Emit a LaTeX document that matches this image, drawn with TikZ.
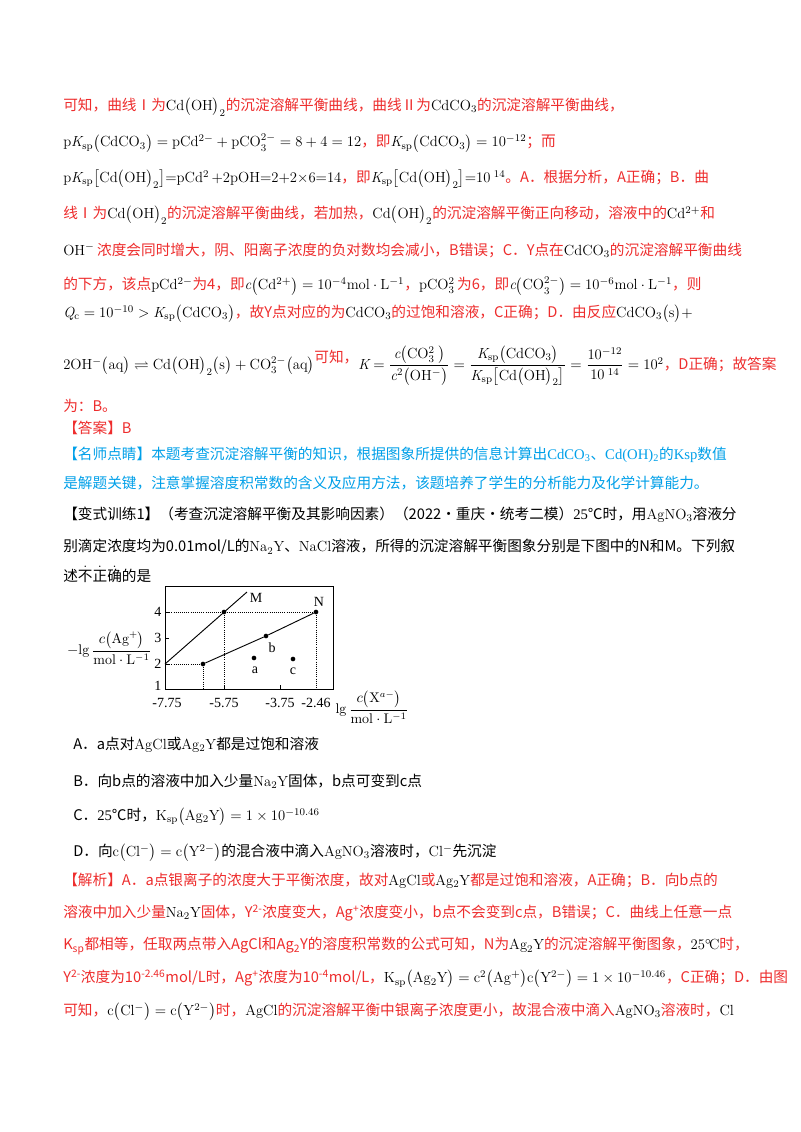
\documentclass[tikz,border=0pt]{standalone}
\usepackage{fontspec}
\usepackage{amsmath,amssymb}
\newfontfamily\cjk{Noto Sans CJK SC}
\newfontfamily\tms{Liberation Serif}
\definecolor{rd}{RGB}{238,45,45}
\definecolor{cy}{RGB}{0,160,233}
\newcommand\m[1]{{\color{black}$\mathrm{#1}$}}
\newcommand\emd[1]{\leavevmode\rlap{\raisebox{0.95em}{\makebox[1em]{\normalfont .}}}#1}
\tikzset{ln/.style={anchor=west,inner sep=0pt,font=\cjk\fontsize{11}{14}\selectfont,text=rd},
 lb/.style={ln,text=black},
 lc/.style={ln,text=cy},
 dt/.style={densely dotted,line width=0.6pt},
 pt/.style={circle,fill=black,inner sep=0pt,minimum size=3.5pt},
 tk/.style={font=\tms\fontsize{10.5}{12}\selectfont,inner sep=1pt}}
\begin{document}
\begin{tikzpicture}[x=0.75pt,y=-0.75pt]
\useasboundingbox[fill=white] (0,0) rectangle (800,1132);
\node[ln] (l1) at (63,107) {可知，曲线Ⅰ为\m{Cd\bigl(OH\bigr)_2}的沉淀溶解平衡曲线，曲线Ⅱ为\m{CdCO_3}的沉淀溶解平衡曲线，};
\node[ln] (l2) at (63,143) {\m{p\mathit{K}_{sp}\bigl(CdCO_3\bigr)=pCd^{2-}+pCO_3^{2-}=8+4=12}，即\m{\mathit{K}_{sp}\bigl(CdCO_3\bigr)=10^{-12}}；而};
\node[ln] (l3) at (63,179) {\m{p\mathit{K}_{sp}\bigl[Cd\bigl(OH\bigr)_2\bigr]{=}pCd^{2}\,{+}2pOH{=}2{+}2{\times}6{=}14}，即\m{\mathit{K}_{sp}\bigl[Cd\bigl(OH\bigr)_2\bigr]{=}10^{\ 14}}。A．根据分析，A正确；B．曲};
\node[ln] (l4) at (63,215) {线Ⅰ为\m{Cd\bigl(OH\bigr)_2}的沉淀溶解平衡曲线，若加热，\m{Cd\bigl(OH\bigr)_2}的沉淀溶解平衡正向移动，溶液中的\m{Cd^{2+}}和};
\node[ln] (l5) at (63,250) {\m{OH^-}\,浓度会同时增大，阴、阳离子浓度的负对数均会减小，B错误；C．Y点在\m{CdCO_3}的沉淀溶解平衡曲线};
\node[ln] (l6) at (63,286) {的下方，该点\m{pCd^{2-}}为4，即\m{\mathit{c}\bigl(Cd^{2+}\bigr)=10^{-4}mol\cdot L^{-1}}，\m{pCO_3^{2}}\,为6，即\m{\mathit{c}\bigl(CO_3^{2-}\bigr)=10^{-6}mol\cdot L^{-1}}，则};
\node[ln] (l7) at (63,314) {\m{\mathit{Q}_c=10^{-10}>\mathit{K}_{sp}\bigl(CdCO_3\bigr)}，故Y点对应的为\m{CdCO_3}的过饱和溶液，C正确；D．由反应\m{CdCO_3\bigl(s\bigr)+}};
\node[ln] (l8) at (63,366) {\m{2OH^-\bigl(aq\bigr)\rightleftharpoons Cd\bigl(OH\bigr)_2\bigl(s\bigr)+CO_3^{2-}\bigl(aq\bigr)}\raisebox{0.9ex}{可知，}\m{\mathit{K}=\dfrac{\mathit{c}\bigl(CO_3^{2}\ \bigr)}{\mathit{c}^2\bigl(OH^-\bigr)}=\dfrac{\mathit{K}_{sp}\bigl(CdCO_3\bigr)}{\mathit{K}_{sp}\bigl[Cd\bigl(OH\bigr)_2\bigr]}=\dfrac{10^{-12}}{10^{\ 14}}=10^2}，D正确；故答案};
\node[ln] (l9) at (63,406) {为：B。};
\node[ln] (l10) at (63,428) {【答案】B};
\node[lc] (l11) at (63,455) {【名师点睛】本题考查沉淀溶解平衡的知识，根据图象所提供的信息计算出{\tms CdCO\textsubscript{3}}、{\tms Cd(OH)\textsubscript{2}}的{\tms Ksp}数值};
\node[lc] (l12) at (63,483) {是解题关键，注意掌握溶度积常数的含义及应用方法，该题培养了学生的分析能力及化学计算能力。};
\node[lb] (l13) at (63,515) {【变式训练1】（考查沉淀溶解平衡及其影响因素）（2022•重庆•统考二模）{\tms 25}℃时，用\m{AgNO_3}溶液分};
\node[lb] (l14) at (63,547) {别滴定浓度均为0.01mol/L的\m{Na_2Y}、\m{NaCl}溶液，所得的沉淀溶解平衡图象分别是下图中的N和M。下列叙};
\node[lb] (l15) at (63,574) {述\emd{不}\emd{正}\emd{确}的是};
% chart
\draw[line width=0.7pt] (165,586) rectangle (333,689);
\coordinate (M0) at (165,664); \coordinate (Mt) at (247,592);
\node[pt] (pM) at (224,612) {};
\node[pt] (p1) at (203,664) {};
\node[pt] (pb) at (266,636) {};
\node[pt] (pN) at (316,612) {};
\node[pt] (pa) at (254,658) {};
\node[pt] (pc) at (293,659) {};
\draw[line width=0.7pt] (M0) -- (Mt);
\draw[line width=0.7pt] (p1) -- (pb) -- (pN);
\draw[dt] (165,612) -- (pN); \draw[dt] (pM) -- (224,689); \draw[dt] (pN) -- (316,689);
\draw[dt] (M0) -- (p1); \draw[dt] (p1) -- (203,689);
\foreach \v/\yy in {4/612,3/638,2/664} \draw (165,\yy) -- (169,\yy);
\foreach \xx in {224,280} \draw (\xx,689) -- (\xx,685);
\node[tk] (Ml) at (256,598) {M};
\node[tk] (Nl) at (319,602) {N};
\node[tk] (bl) at (272,648) {b};
\node[tk] (al) at (255,670) {a};
\node[tk] (cl) at (293,671) {c};
\foreach \v/\yy in {4/612,3/638,2/664,1/686} \node[tk,anchor=east] (y\v) at (163,\yy) {\v};
\node[tk] (x1) at (167,703) {-7.75};
\node[tk] (x2) at (224,703) {-5.75};
\node[tk] (x3) at (280,703) {-3.75};
\node[tk] (x4) at (316,703) {-2.46};
\node[tk,anchor=west] (xl) at (334,707) {$\mathrm{lg}\,\dfrac{c\bigl(\mathrm{X}^{a-}\bigr)}{\mathrm{mol\cdot L^{-1}}}$};
\node[tk,anchor=east] (yl) at (153,648) {$-\mathrm{lg}\,\dfrac{c\bigl(\mathrm{Ag}^{+}\bigr)}{\mathrm{mol\cdot L^{-1}}}$};
% options
\node[lb] (oA) at (73,745) {A．a点对\m{AgCl}或\m{Ag_2Y}都是过饱和溶液};
\node[lb] (oB) at (73,781) {B．向b点的溶液中加入少量\m{Na_2Y}固体，b点可变到c点};
\node[lb] (oC) at (73,817) {C．{\tms 25}℃时，\m{K_{sp}\bigl(Ag_2Y\bigr)=1\times10^{-10.46}}};
\node[lb] (oD) at (73,853) {D．向\m{c\bigl(Cl^-\bigr)=c\bigl(Y^{2-}\bigr)}的混合液中滴入\m{AgNO_3}溶液时，\m{Cl^-}先沉淀};
\node[ln] (j1) at (63,881) {【解析】A．a点银离子的浓度大于平衡浓度，故对\m{AgCl}或\m{Ag_2Y}都是过饱和溶液，A正确；B．向b点的};
\node[ln] (j2) at (63,913) {溶液中加入少量\m{Na_2Y}固体，Y\textsuperscript{2-}浓度变大，Ag\textsuperscript{+}浓度变小，b点不会变到c点，B错误；C．曲线上任意一点};
\node[ln] (j3) at (63,946) {K\textsubscript{sp}都相等，任取两点带入AgCl和Ag\textsubscript{2}Y的溶度积常数的公式可知，N为\m{Ag_2Y}的沉淀溶解平衡图象，\m{25^\circ\!C}时，};
\node[ln] (j4) at (63,979) {Y\textsuperscript{2-}浓度为10\textsuperscript{-2.46}mol/L时，Ag\textsuperscript{+}浓度为10\textsuperscript{-4}mol/L，\m{K_{sp}\bigl(Ag_2Y\bigr)=c^2\bigl(Ag^+\bigr)c\bigl(Y^{2-}\bigr)=1\times10^{-10.46}}，C正确；D．由图};
\node[ln] (j5) at (63,1012) {可知，\m{c\bigl(Cl^-\bigr)=c\bigl(Y^{2-}\bigr)}时，\m{AgCl}的沉淀溶解平衡中银离子浓度更小，故混合液中滴入\m{AgNO_3}溶液时，\m{Cl}};
\end{tikzpicture}
\end{document}
